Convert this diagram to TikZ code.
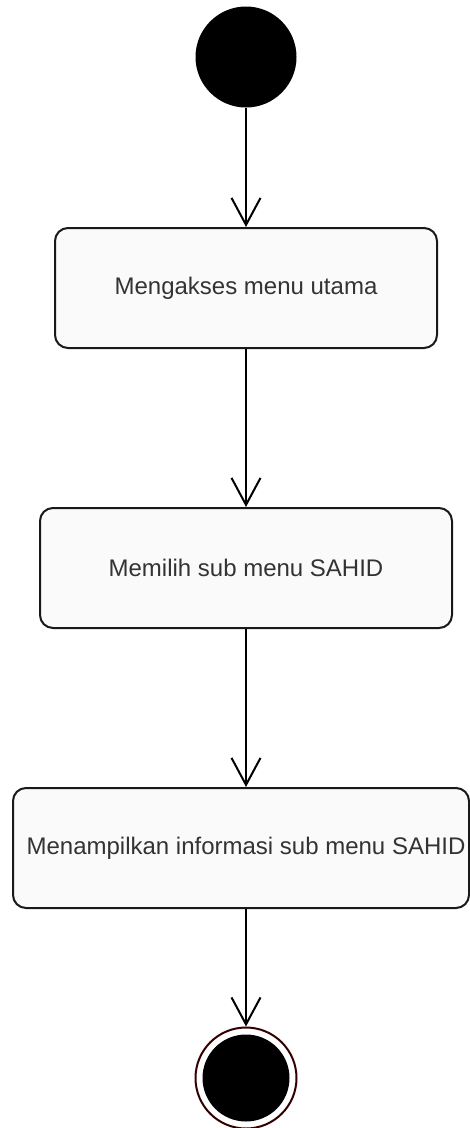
\documentclass[tikz,border=0pt]{standalone}
\usepackage{fontspec}
\setmainfont{Liberation Sans}
\usetikzlibrary{arrows.meta}

\definecolor{txtgray}{HTML}{333333}
\definecolor{boxfill}{HTML}{FAFAFA}
\definecolor{ringcol}{HTML}{330000}

\begin{document}
\begin{tikzpicture}[x=1pt,y=-1pt]
    \tikzstyle{flow}=[draw=black,line width=2pt,-{Straight Barb[length=27pt,width=29pt]}]
    \tikzstyle{act}=[rectangle,rounded corners=13pt,draw=black!90,line width=2pt,fill=boxfill,
        minimum height=120pt,inner sep=0pt,text=txtgray,font=\fontsize{24}{28}\selectfont]
    \tikzstyle{startdot}=[circle,fill=black,minimum size=101pt,inner sep=0pt]
    \tikzstyle{endring}=[circle,draw=ringcol,line width=2pt,fill=white,minimum size=101pt,inner sep=0pt]
    \tikzstyle{enddot}=[circle,fill=black,minimum size=87pt,inner sep=0pt]

    \useasboundingbox (0,0) rectangle (470,1128);

    \node[startdot] (start) at (246, 57) {};
    \node[act,minimum width=382pt] (menu)  at (246, 288) {Mengakses menu utama};
    \node[act,minimum width=412pt] (sub)   at (246, 568) {Memilih sub menu SAHID};
    \node[act,minimum width=456pt,execute at begin node={\hspace*{10pt}}] (info) at (241, 848)
        {Menampilkan informasi sub menu SAHID};
    \node[endring] (stop) at (246, 1078) {};
    \node[enddot] (stopdot) at (stop) {};

    \path[flow] (start) -- (menu);
    \path[flow] (menu) -- (sub);
    \path[flow] (sub) -- (info.north -| sub);
    \path[flow] (info.south -| stop) -- (stop);
\end{tikzpicture}
\end{document}
